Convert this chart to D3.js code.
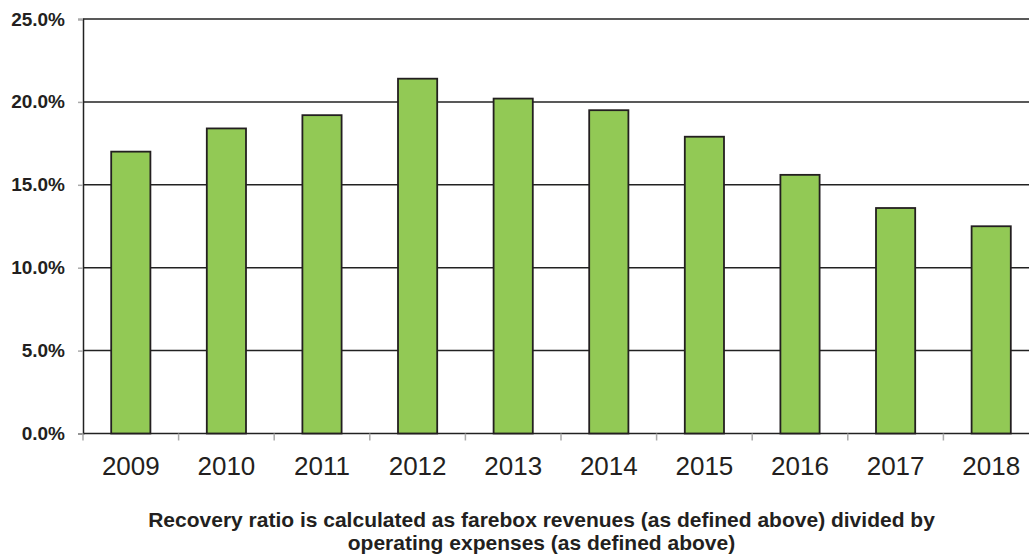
<!DOCTYPE html>
<html lang="en">
<head>
    <meta charset="UTF-8">
    <script src="https://d3js.org/d3.v7.min.js" charset="utf-8"></script>
    <title>Recovery Ratio</title>
    <style>
        body { margin: 0; background: white; }
        svg { display: block; }
    </style>
</head>
<body>
    <div class="chart"></div>

    <script>
        const svgWidth = 1029;
        const svgHeight = 559;

        // farebox recovery ratio per year (%)
        const years = ["2009", "2010", "2011", "2012", "2013", "2014", "2015", "2016", "2017", "2018"];
        const ratios = [17.0, 18.4, 19.2, 21.4, 20.2, 19.5, 17.9, 15.6, 13.6, 12.5];
        const yTicks = [0, 5, 10, 15, 20, 25];
        const captionLines = [
            "Recovery ratio is calculated as farebox revenues (as defined above) divided by",
            "operating expenses (as defined above)"
        ];

        const margin = {top: 19, right: -10, bottom: 125.5, left: 83};

        const svg = d3.select(".chart").append("svg")
            .attr("width", svgWidth)
            .attr("height", svgHeight);

        const innerW = svgWidth - margin.left - margin.right;
        const innerH = svgHeight - margin.top - margin.bottom;

        const x = d3.scaleBand()
            .domain(years)
            .range([margin.left, margin.left + innerW])
            .paddingInner(0.59)
            .paddingOuter(0.295);

        const y = d3.scaleLinear()
            .domain([0, 25])
            .range([margin.top + innerH, margin.top]);

        // Gridlines
        svg.append("g")
            .selectAll("line")
            .data(yTicks)
            .join("line")
            .attr("x1", margin.left)
            .attr("x2", svgWidth)
            .attr("y1", d => y(d))
            .attr("y2", d => y(d))
            .attr("stroke", "#222")
            .attr("stroke-width", 1.5);

        // Y axis
        const yAxis = svg.append("g")
            .attr("transform", `translate(${margin.left},0)`)
            .call(d3.axisLeft(y).tickValues(yTicks).tickSize(5).tickPadding(13)
                .tickFormat(d => d.toFixed(1) + "%"));
        yAxis.select(".domain").attr("stroke", "#222").attr("stroke-width", 1.5);
        yAxis.selectAll(".tick line").attr("stroke", "#aaa").attr("stroke-width", 1.5);
        yAxis.selectAll(".tick text")
            .attr("fill", "#231f20")
            .style("font-family", "Arial, 'Liberation Sans', sans-serif")
            .style("font-weight", "bold")
            .style("font-size", "19px");

        // X axis: ticks at category boundaries
        const step = x.step();
        const boundaries = d3.range(years.length + 1).map(i => margin.left + i * step);
        svg.append("g")
            .selectAll("line")
            .data(boundaries)
            .join("line")
            .attr("x1", d => d)
            .attr("x2", d => d)
            .attr("y1", y(0))
            .attr("y2", y(0) + 7)
            .attr("stroke", "#aaa")
            .attr("stroke-width", 1.5);

        svg.append("g")
            .selectAll("text")
            .data(years)
            .join("text")
            .attr("x", d => x(d) + x.bandwidth() / 2)
            .attr("y", 475)
            .attr("text-anchor", "middle")
            .attr("fill", "#231f20")
            .style("font-family", "Arial, 'Liberation Sans', sans-serif")
            .style("font-size", "26px")
            .text(d => d);

        // Bars
        svg.append("g")
            .selectAll("rect")
            .data(years.map((yr, i) => ({yr, v: ratios[i]})))
            .join("rect")
            .attr("x", d => x(d.yr))
            .attr("y", d => y(d.v))
            .attr("width", x.bandwidth())
            .attr("height", d => y(0) - y(d.v))
            .attr("fill", "#92c955")
            .attr("stroke", "#231f20")
            .attr("stroke-width", 1.8);

        // Caption
        svg.append("g")
            .selectAll("text")
            .data(captionLines)
            .join("text")
            .attr("x", 541.5)
            .attr("y", (d, i) => 527 + i * 22.5)
            .attr("text-anchor", "middle")
            .attr("fill", "#231f20")
            .style("font-family", "Arial, 'Liberation Sans', sans-serif")
            .style("font-weight", "bold")
            .style("font-size", "21px")
            .text(d => d);
    </script>
</body>
</html>
